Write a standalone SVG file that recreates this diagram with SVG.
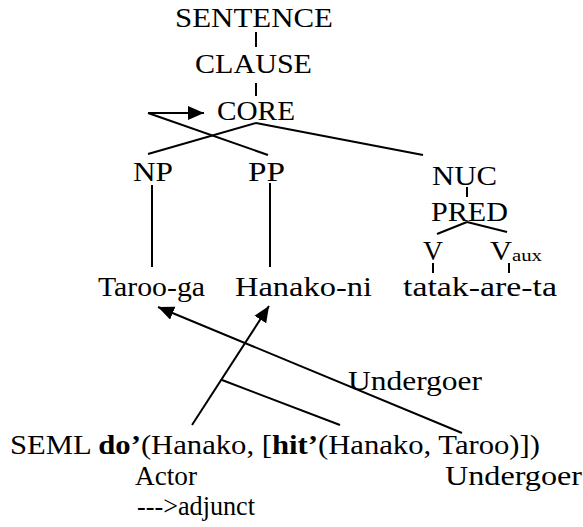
<svg xmlns="http://www.w3.org/2000/svg" width="583" height="527" viewBox="0 0 583 527">
<style>
.t{font-family:'Liberation Serif','Times New Roman',serif;font-size:27px;fill:#000}
.sub{font-size:17px}
.ln{stroke:#000;stroke-width:2;fill:none}
.ar{stroke:#000;stroke-width:2;fill:none;marker-end:url(#ah)}
</style>
<defs>
<marker id="ah" markerUnits="userSpaceOnUse" markerWidth="18" markerHeight="16" refX="16" refY="7" orient="auto">
<path d="M0,0 L16,7 L0,14 z" fill="#000"/>
</marker>
</defs>
<g id="connectors">
<line class="ln" x1="256" y1="32" x2="256" y2="47"/>
<line class="ln" x1="256" y1="83" x2="256" y2="96"/>
<line class="ar" x1="148" y1="113" x2="204" y2="113"/>
<line class="ln" x1="148" y1="113" x2="268" y2="155"/>
<line class="ln" x1="256" y1="123" x2="148" y2="154"/>
<line class="ln" x1="256" y1="123" x2="423" y2="155"/>
<line class="ln" x1="152" y1="185" x2="152" y2="267"/>
<line class="ln" x1="270" y1="183" x2="270" y2="267"/>
<line class="ln" x1="467" y1="187" x2="467" y2="197"/>
<line class="ln" x1="467" y1="222" x2="437" y2="234"/>
<line class="ln" x1="467" y1="222" x2="507" y2="232"/>
<line class="ln" x1="433" y1="263" x2="433" y2="273"/>
<line class="ln" x1="509" y1="263" x2="509" y2="273"/>
<line class="ar" x1="462" y1="433" x2="158" y2="307"/>
<line class="ar" x1="192" y1="425" x2="269" y2="306"/>
<line class="ln" x1="222" y1="380" x2="340" y2="425"/>
</g>
<g id="sentence"><text class="t" x="175" y="27" textLength="158" lengthAdjust="spacingAndGlyphs">SENTENCE</text></g>
<g id="clause"><text class="t" x="195" y="73" textLength="117" lengthAdjust="spacingAndGlyphs">CLAUSE</text></g>
<g id="core"><text class="t" x="217" y="120" textLength="78" lengthAdjust="spacingAndGlyphs">CORE</text></g>
<g id="np"><text class="t" x="133" y="181" textLength="40" lengthAdjust="spacingAndGlyphs">NP</text></g>
<g id="pp"><text class="t" x="248" y="181" textLength="37" lengthAdjust="spacingAndGlyphs">PP</text></g>
<g id="nuc"><text class="t" x="432" y="185" textLength="65" lengthAdjust="spacingAndGlyphs">NUC</text></g>
<g id="pred"><text class="t" x="431" y="221" textLength="77" lengthAdjust="spacingAndGlyphs">PRED</text></g>
<g id="v"><text class="t" x="423" y="260" textLength="20" lengthAdjust="spacingAndGlyphs">V</text></g>
<g id="vaux"><text class="t" x="490" y="260" textLength="22" lengthAdjust="spacingAndGlyphs">V</text><text class="t sub" x="512" y="261" textLength="30" lengthAdjust="spacingAndGlyphs">aux</text></g>
<g id="taroo-ga"><text class="t" x="98" y="296" textLength="107" lengthAdjust="spacingAndGlyphs">Taroo-ga</text></g>
<g id="hanako-ni"><text class="t" x="235" y="296" textLength="137" lengthAdjust="spacingAndGlyphs">Hanako-ni</text></g>
<g id="tatak-are-ta"><text class="t" x="403" y="296" textLength="154" lengthAdjust="spacingAndGlyphs">tatak-are-ta</text></g>
<g id="undergoer-label"><text class="t" x="348" y="390" textLength="134" lengthAdjust="spacingAndGlyphs">Undergoer</text></g>
<g id="seml"><text class="t" x="10" y="454" textLength="530" lengthAdjust="spacingAndGlyphs">SEML <tspan font-weight="bold">do’</tspan>(Hanako, [<tspan font-weight="bold">hit’</tspan>(Hanako, Taroo)])</text></g>
<g id="actor"><text class="t" x="135" y="485" textLength="62" lengthAdjust="spacingAndGlyphs">Actor</text></g>
<g id="undergoer"><text class="t" x="445" y="485" textLength="137" lengthAdjust="spacingAndGlyphs">Undergoer</text></g>
<g id="adjunct"><text class="t" x="137" y="515" textLength="118" lengthAdjust="spacingAndGlyphs">---&gt;adjunct</text></g>
</svg>
